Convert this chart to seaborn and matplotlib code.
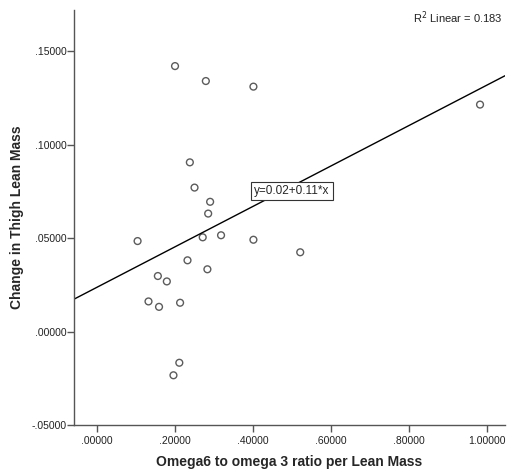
import matplotlib
matplotlib.use("Agg")
import matplotlib.pyplot as plt
import seaborn as sns
import pandas as pd
from matplotlib.ticker import FuncFormatter

omega_ratio = [0.200, 0.279, 0.401, 0.238, 0.250, 0.290, 0.285, 0.104, 0.271, 0.318, 0.401,
               0.521, 0.232, 0.283, 0.156, 0.179, 0.132, 0.159, 0.213, 0.211, 0.196, 0.982]
thigh_change = [0.142, 0.134, 0.131, 0.0905, 0.077, 0.0694, 0.0631, 0.0484, 0.0504, 0.0515, 0.0491,
                0.0424, 0.0381, 0.0333, 0.0297, 0.0268, 0.0161, 0.0132, 0.0154, -0.0167, -0.0234, 0.1214]
x_ticks = [0.0, 0.2, 0.4, 0.6, 0.8, 1.0]
y_ticks = [-0.05, 0.0, 0.05, 0.10, 0.15]

df = pd.DataFrame({"x": omega_ratio, "y": thigh_change})

sns.set_style("white")
plt.rcParams["font.family"] = ["Liberation Sans", "DejaVu Sans"]

fig = plt.figure(figsize=(5.08, 4.73), dpi=100)
ax = fig.add_axes([74 / 508, 48 / 473, (505 - 74) / 508, (463 - 48) / 473])
ax.set_xlim(-0.059, 1.046)
ax.set_ylim(-0.05, 0.172)

sns.regplot(data=df, x="x", y="y", ax=ax, ci=None, truncate=False,
            scatter_kws=dict(s=24, facecolors="none", edgecolors="#333333", linewidths=1.0),
            line_kws=dict(color="black", lw=1.0))
ax.set_xlim(-0.059, 1.046)
ax.set_ylim(-0.05, 0.172)


def fmt_func(v, p):
    if abs(v) < 1:
        s = f"{abs(v):.5f}".lstrip("0")
        return ("-" if v < -1e-9 else "") + s
    return f"{v:.5f}"


fmt = FuncFormatter(fmt_func)
ax.xaxis.set_major_formatter(fmt)
ax.yaxis.set_major_formatter(fmt)
ax.set_xticks(x_ticks)
ax.set_yticks(y_ticks)

for s in ["top", "right"]:
    ax.spines[s].set_visible(False)
for s in ["left", "bottom"]:
    ax.spines[s].set_color("#555555")
    ax.spines[s].set_linewidth(1.0)
ax.tick_params(axis="both", direction="out", length=5, width=1, color="#555555",
               labelsize=7.5, labelcolor="#222222", bottom=True, left=True, pad=0.5)
ax.tick_params(axis="x", pad=3)

ax.set_xlabel("Omega6 to omega 3 ratio per Lean Mass", fontsize=10, fontweight="bold")
ax.set_ylabel("Change in Thigh Lean Mass", fontsize=10, fontweight="bold")
ax.xaxis.set_label_coords(0.5, -0.072)
ax.yaxis.set_label_coords(-0.116, 0.5)

ax.text(0.50, 0.075, "y=0.02+0.11*x", fontsize=8.5, ha="center", va="center",
        bbox=dict(boxstyle="square,pad=0.25", fc="white", ec="#333333", lw=0.8))
fig.text(0.99, 0.962, r"R$^2$ Linear = 0.183", fontsize=8, ha="right", va="center", color="#222222")

fig.savefig("out.png", dpi=100)
